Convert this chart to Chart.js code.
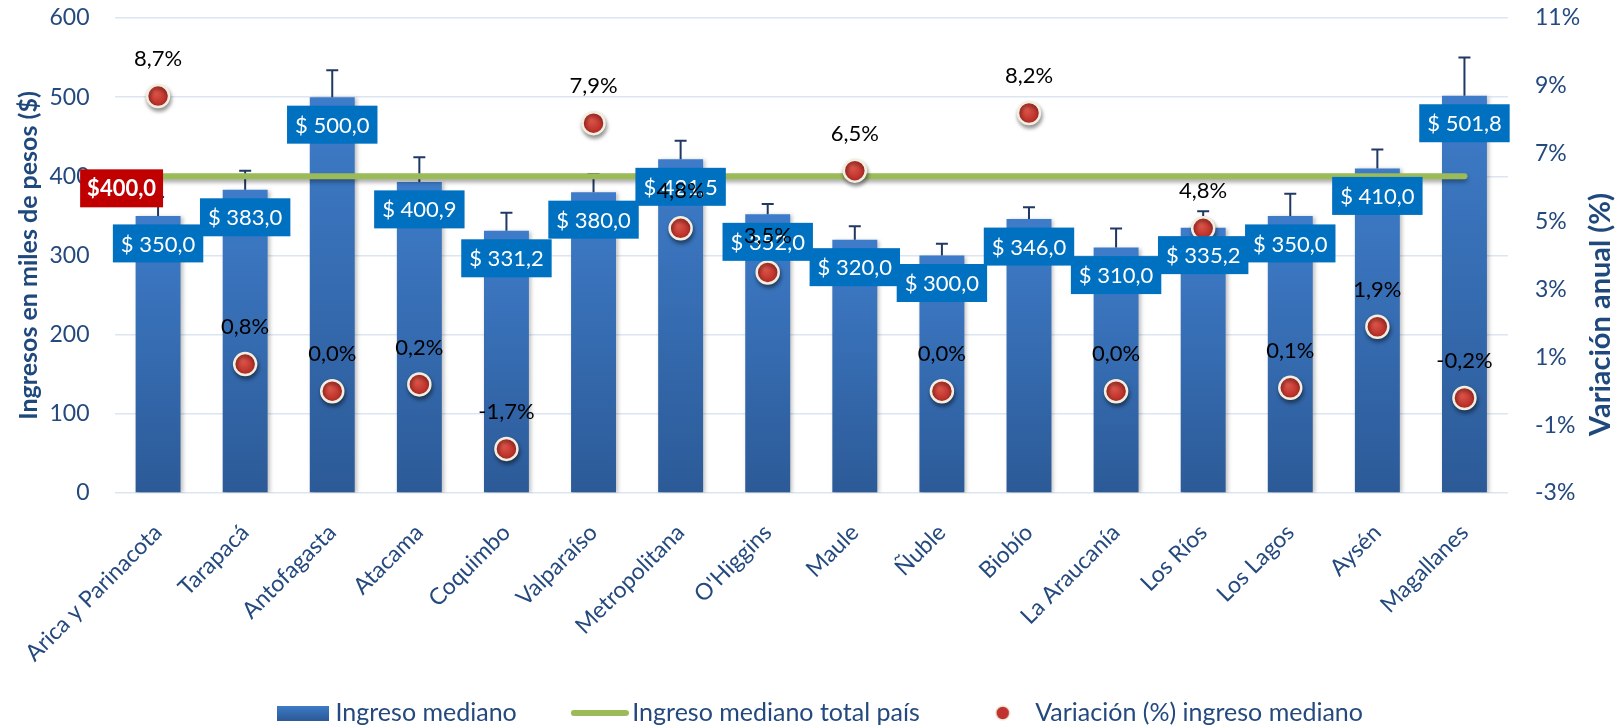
<!DOCTYPE html>
<html><head><meta charset="utf-8">
<script src="https://cdn.jsdelivr.net/npm/chart.js@4.4.1/dist/chart.umd.min.js"></script>
<style>html,body{margin:0;padding:0;background:#fff;} #wrap{width:1618px;height:727px;position:relative;}</style>
</head><body><div id="wrap"><canvas id="c"></canvas></div>
<script>
// ---- data ----
const regiones = ['Arica y Parinacota','Tarapacá','Antofagasta','Atacama','Coquimbo','Valparaíso','Metropolitana',"O'Higgins",'Maule','Ñuble','Biobío','La Araucanía','Los Ríos','Los Lagos','Aysén','Magallanes'];
const ingresoMediano = [350.0, 383.0, 500.0, 393.0, 331.2, 380.0, 421.5, 352.0, 320.0, 300.0, 346.0, 310.0, 335.2, 350.0, 410.0, 501.8];
const etiquetaIngreso = [350.0, 383.0, 500.0, 400.9, 331.2, 380.0, 421.5, 352.0, 320.0, 300.0, 346.0, 310.0, 335.2, 350.0, 410.0, 501.8];
const errorSuperior = [374, 407, 534, 424, 354, 403, 445, 365, 337, 315, 361, 334, 356, 378, 434, 550];
const ingresoPais = [400, 400, 400, 400, 400, 400, 400, 400, 400, 400, 400, 400, 400, 400, 400, 400];
const variacion = [8.7, 0.8, 0.0, 0.2, -1.7, 7.9, 4.8, 3.5, 6.5, 0.0, 8.2, 0.0, 4.8, 0.1, 1.9, -0.2];
const ticksIngreso = [0, 100, 200, 300, 400, 500, 600];
const ticksVariacion = [-3, -1, 1, 3, 5, 7, 9, 11];
const seriesNombres = ['Ingreso mediano', 'Ingreso mediano total país', 'Variación (%) ingreso mediano'];
const tituloIzq = 'Ingresos en miles de pesos ($)';
const tituloDer = 'Variación anual (%)';

const FONT = 'Lato, "Open Sans", sans-serif';
const TXT = '#24497E';
const TXT2 = '#1F497D';
Chart.defaults.font.family = FONT;

function fmt(v){ return v.toFixed(1).replace('.', ','); }
function mk(w,h,draw){ const c=document.createElement('canvas'); c.width=w; c.height=h; draw(c.getContext('2d'),w,h); return c; }
const legBar = mk(52,15,(g,w,h)=>{ const gr=g.createLinearGradient(0,0,0,h); gr.addColorStop(0,'#3E7CC9'); gr.addColorStop(1,'#2C5A97'); g.fillStyle=gr; g.fillRect(0,0,w,h); });
const legLine = mk(58,8,(g,w,h)=>{ g.strokeStyle='#9BBB59'; g.lineWidth=6; g.lineCap='round'; g.beginPath(); g.moveTo(3,4); g.lineTo(w-3,4); g.stroke(); });
const legDot = mk(18,18,(g)=>{ g.beginPath(); g.arc(9,9,7,0,2*Math.PI); g.fillStyle='#C0332E'; g.fill(); g.lineWidth=1.5; g.strokeStyle='#EFEBDD'; g.stroke(); });

const decor = {
  id: 'decor',
  beforeDatasetDraw(chart, args) {
    const ctx = chart.ctx; ctx.save();
    if (args.index === 0) { ctx.shadowColor='rgba(0,0,0,0.25)'; ctx.shadowBlur=4; ctx.shadowOffsetX=2; ctx.shadowOffsetY=1; }
    else if (args.index === 1) { ctx.shadowColor='rgba(0,0,0,0.35)'; ctx.shadowBlur=4; ctx.shadowOffsetY=3; }
    else { ctx.shadowColor='rgba(0,0,0,0.4)'; ctx.shadowBlur=4; ctx.shadowOffsetX=1; ctx.shadowOffsetY=3; }
  },
  afterDatasetDraw(chart, args) {
    const ctx = chart.ctx; ctx.restore();
    if (args.index === 0) {
      const ys = chart.scales.y;
      const meta = chart.getDatasetMeta(0);
      ctx.save(); ctx.strokeStyle='#1F3864'; ctx.lineWidth=2;
      meta.data.forEach((bar,i)=>{
        const yTop = ys.getPixelForValue(errorSuperior[i]);
        ctx.beginPath(); ctx.moveTo(bar.x, bar.y); ctx.lineTo(bar.x, yTop);
        ctx.moveTo(bar.x-6, yTop); ctx.lineTo(bar.x+6, yTop); ctx.stroke();
      });
      ctx.restore();
    }
  },
  afterDatasetsDraw(chart) {
    const ctx = chart.ctx;
    ctx.save();
    ctx.textAlign = 'center'; ctx.textBaseline = 'middle';
    // bar labels
    ctx.font = '22px ' + FONT;
    chart.getDatasetMeta(0).data.forEach((bar,i)=>{
      const t = '$ ' + fmt(etiquetaIngreso[i]);
      const w = ctx.measureText(t).width + 16, h = 38, cy = bar.y + 27.5;
      ctx.fillStyle = '#0070C0'; ctx.fillRect(bar.x - w/2, cy - h/2, w, h);
      ctx.fillStyle = '#FFFFFF'; ctx.fillText(t, bar.x, cy + 1);
    });
    // line label
    const p0 = chart.getDatasetMeta(1).data[0];
    ctx.font = 'bold 22px ' + FONT;
    const t0 = '$' + fmt(ingresoPais[0]);
    const w0 = ctx.measureText(t0).width + 14;
    ctx.fillStyle = '#C00000'; ctx.fillRect(p0.x + 5 - w0, p0.y + 12 - 19, w0, 38);
    ctx.fillStyle = '#FFFFFF'; ctx.fillText(t0, p0.x + 5 - w0/2, p0.y + 13);
    // percent labels
    ctx.font = '22px ' + FONT;
    ctx.fillStyle = '#000000';
    chart.getDatasetMeta(2).data.forEach((pt,i)=>{
      ctx.fillText(fmt(variacion[i]) + '%', pt.x, pt.y - 37);
    });
    // right axis title (reads bottom to top)
    ctx.translate(chart.width - 17, (chart.chartArea.top + chart.chartArea.bottom)/2 + 59);
    ctx.rotate(-Math.PI/2);
    ctx.font = 'bold 29px ' + FONT; ctx.fillStyle = TXT2;
    ctx.fillText(tituloDer, 0, 0);
    ctx.restore();
  }
};

new Chart(document.getElementById('c'), {
  data: {
    labels: regiones,
    datasets: [
      { type: 'bar', label: seriesNombres[0], data: ingresoMediano, yAxisID: 'y', order: 3,
        barPercentage: 0.516, categoryPercentage: 1.0,
        backgroundColor: (c) => {
          const ch = c.chart; const ca = ch.chartArea;
          if (!ca || c.raw == null) return '#3A74BE';
          const yt = ch.scales.y.getPixelForValue(c.raw);
          const g = ch.ctx.createLinearGradient(0, yt, 0, ca.bottom);
          g.addColorStop(0, '#3E7CC9'); g.addColorStop(1, '#2C5A97');
          return g;
        } },
      { type: 'line', label: seriesNombres[1], data: ingresoPais, yAxisID: 'y', order: 2,
        borderColor: '#9BBB59', borderWidth: 6, borderCapStyle: 'round', pointRadius: 0, pointHoverRadius: 0, fill: false },
      { type: 'line', label: seriesNombres[2], data: variacion, yAxisID: 'y2', order: 1, showLine: false,
        pointRadius: 11, pointHoverRadius: 11, pointBorderWidth: 2.5, pointBorderColor: '#F2EEE0',
        pointBackgroundColor: (c) => {
          const ch = c.chart; const ca = ch.chartArea;
          if (!ca || c.raw == null) return '#C0332E';
          const x = ch.scales.x.getPixelForValue(c.dataIndex);
          const y = ch.scales.y2.getPixelForValue(c.raw);
          const g = ch.ctx.createRadialGradient(x-3, y-4, 1, x, y, 11);
          g.addColorStop(0, '#E0564A'); g.addColorStop(1, '#B02823');
          return g;
        } }
    ]
  },
  options: {
    responsive: true, maintainAspectRatio: false, animation: false,
    layout: { padding: { top: 18, bottom: -8.5, left: 28, right: 0 } },
    plugins: {
      tooltip: { enabled: false },
      legend: {
        position: 'bottom',
        labels: {
          usePointStyle: true, pointStyleWidth: 40, padding: 63,
          font: { size: 25 }, color: TXT,
          generateLabels: () => [
            { text: seriesNombres[0], pointStyle: legBar, datasetIndex: 0, fontColor: TXT, hidden: false, lineWidth: 0, strokeStyle: 'rgba(0,0,0,0)', fillStyle: 'rgba(0,0,0,0)' },
            { text: seriesNombres[1], pointStyle: legLine, datasetIndex: 1, fontColor: TXT, hidden: false, lineWidth: 0, strokeStyle: 'rgba(0,0,0,0)', fillStyle: 'rgba(0,0,0,0)' },
            { text: seriesNombres[2], pointStyle: legDot, datasetIndex: 2, fontColor: TXT, hidden: false, lineWidth: 0, strokeStyle: 'rgba(0,0,0,0)', fillStyle: 'rgba(0,0,0,0)' }
          ]
        }
      }
    },
    scales: {
      x: {
        grid: { display: false, drawTicks: false }, border: { display: false },
        ticks: { autoSkip: false, maxRotation: 45, minRotation: 45, font: { size: 23 }, color: TXT, padding: 26 },
        afterFit(s) { s.height = 144.5; s._computeLabelArea = () => undefined; }
      },
      y: {
        position: 'left', min: 0, max: 600,
        afterBuildTicks(s) { s.ticks = ticksIngreso.map(v => ({ value: v })); },
        ticks: { padding: 3, font: { size: 23 }, color: TXT },
        grid: { color: '#DCE6F2', lineWidth: 1.5, drawTicks: true, tickLength: 22, tickColor: 'rgba(0,0,0,0)' }, border: { display: false },
        title: { display: true, text: tituloIzq, font: { size: 25, weight: 'bold' }, color: TXT2, padding: { top: -16, bottom: 0 } },
        afterFit(s) { s.width = 85; }
      },
      y2: {
        position: 'right', min: -3, max: 11,
        afterBuildTicks(s) { s.ticks = ticksVariacion.map(v => ({ value: v })); },
        ticks: { padding: 3, font: { size: 23 }, color: TXT, callback: (v) => v + '%' },
        grid: { display: false, drawTicks: true, tickLength: 24 }, border: { display: false },
        afterFit(s) { s.width = 110; }
      }
    }
  },
  plugins: [decor]
});
</script>
</body></html>
